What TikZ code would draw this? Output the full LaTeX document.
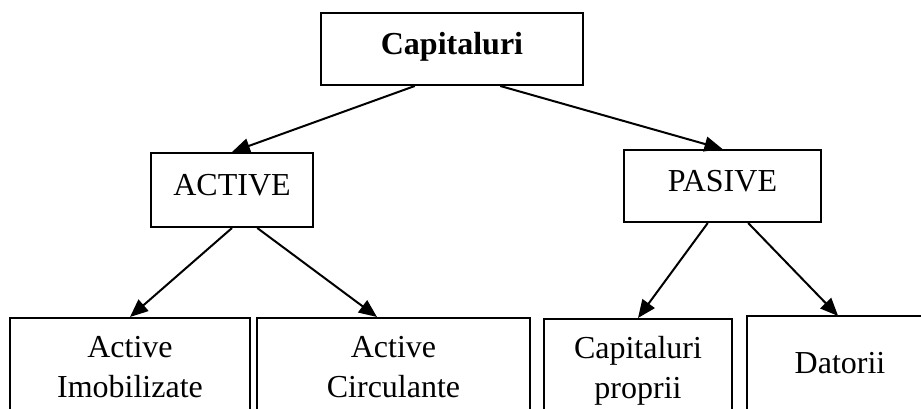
\documentclass[tikz,border=0pt]{standalone}
\usepackage{fontspec}
\setmainfont{Liberation Serif}
\usetikzlibrary{calc,arrows.meta}

\begin{document}
\begin{tikzpicture}[
  x=1pt, y=-1pt,
  every node/.style={font=\fontsize{32}{40}\selectfont},
  box/.style={draw, line width=2pt, inner sep=0pt, align=center},
  headbox/.style={box, text height=22pt, text depth=11pt},
  frame/.style={line width=2pt},
  link/.style={line width=2pt, -{Triangle[length=18pt,width=15pt]}}
]
\path[use as bounding box] (0,0) rectangle (921,409);
\begin{scope}
\clip (0,0) rectangle (921,409);

% top level
\node[headbox, minimum width=262pt, minimum height=72pt] (cap) at (452,49) {\bfseries Capitaluri};

% second level
\node[headbox, minimum width=162pt, minimum height=74pt] (act) at (232,190) {ACTIVE};
\node[headbox, minimum width=197pt, minimum height=72pt] (pas) at (722.5,186) {PASIVE};

% third level (lower edges run below the page)
\node[box, minimum width=240pt, minimum height=98pt]  (ai)  at (130,367)   {Active\\Imobilizate};
\node[box, minimum width=273pt, minimum height=98pt]  (ac)  at (393.5,367) {Active\\Circulante};
\node[box, minimum width=188pt, minimum height=103pt] (cp)  at (638,370.5) {Capitaluri\\proprii};
\node[box, draw=none, text height=22pt, text depth=33pt,
      minimum width=184pt, minimum height=123pt]      (dat) at (840,378.5) {Datorii};
% only the top and left sides of this box fall on the page
\draw[frame] (dat.north east) -- (dat.north west) -- (dat.south west);

% connectors
\draw[link] ($(cap.south west)!0.359!(cap.south east)$) -- (act.north);
\draw[link] ($(cap.south west)!0.683!(cap.south east)$) -- (pas.north);
\draw[link] (act.south) -- (ai.north);
\draw[link] ($(act.south west)!0.654!(act.south east)$) -- ($(ac.north west)!0.44!(ac.north east)$);
\draw[link] ($(pas.south west)!0.426!(pas.south east)$) -- (cp.north);
\draw[link] ($(pas.south west)!0.629!(pas.south east)$) -- ($(dat.north west)!0.49!(dat.north east)$);
\end{scope}
\end{tikzpicture}
\end{document}
